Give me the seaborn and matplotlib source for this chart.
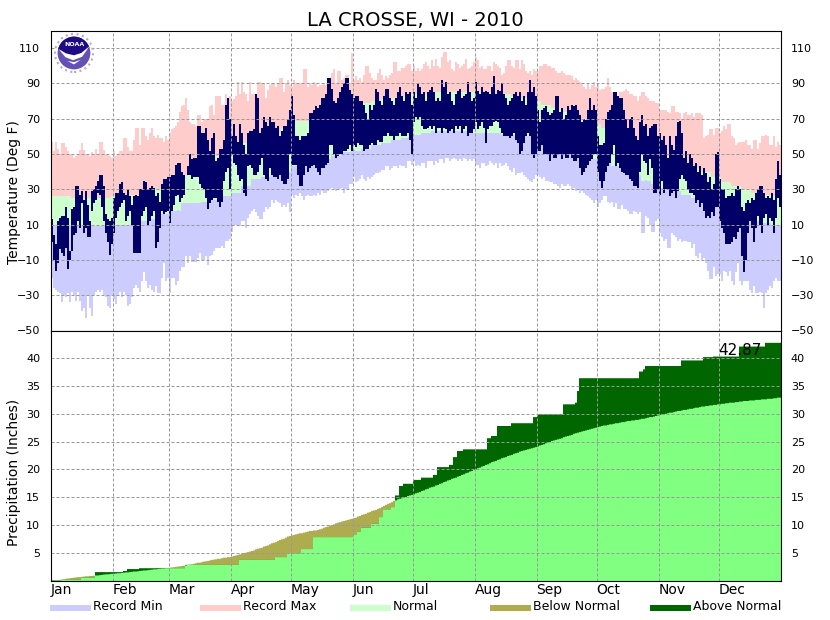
import numpy as np
import matplotlib
matplotlib.use('Agg')
import matplotlib.pyplot as plt
from matplotlib.patches import Circle, Polygon, Rectangle
import seaborn as sns

months = ['Jan', 'Feb', 'Mar', 'Apr', 'May', 'Jun', 'Jul', 'Aug', 'Sep', 'Oct', 'Nov', 'Dec']
month_starts = [0, 31, 59, 90, 120, 151, 181, 212, 243, 273, 304, 334]

# daily record high / low, Jan to Dec
record_max = [
    57,52,57,53,50,56,56,54,52,50, 50,48,49,50,52,56,52,50,50,49, 51,50,53,50,57,57,52,50,50,49,48,
    52,49,50,52,52,59,59,54,52,52, 58,65,65,55,65,65,60,58,62,65, 60,59,61,59,59,57,60,58,
    62,64,65,66,68,74,77,78,82,75, 68,67,67,66,72,72,68,70,70,70, 77,78,72,83,83,83,78,78,84,79,83,
    80,81,83,91,84,91,85,84,80,91, 84,84,74,91,91,90,90,82,86,89, 90,90,88,90,93,93,85,90,92,89,
    88,92,90,90,90,90,98,98,88,90, 89,91,90,88,89,89,90,89,90,91, 96,98,90,97,97,92,93,95,95,90,107,
    92,94,92,93,91,95,100,100,96,93, 92,92,96,98,95,92,94,93,95,96, 102,102,97,97,99,99,100,101,101,97,
    100,97,99,97,98,101,102,100,98,103, 100,104,100,99,105,108,108,102,103,98, 97,102,101,99,100,101,104,98,99,100,102,
    105,103,99,100,98,98,100,100,97,102, 101,100,99,95,96,100,103,103,100,99, 103,103,98,103,101,97,96,97,95,98,97,
    97,100,100,101,101,100,100,99,99,97, 96,96,97,96,95,95,95,94,92,93, 92,91,90,88,87,90,87,89,91,88,
    90,86,87,87,88,93,88,85,84,84, 83,85,85,86,87,86,84,84,83,83, 80,83,85,85,83,82,80,80,80,79,79,
    75,75,75,75,74,73,77,77,74,74, 73,70,73,74,72,72,73,71,73,73, 73,72,59,60,61,64,64,61,65,65,
    62,63,66,64,67,67,60,59,55,56, 57,57,57,58,55,55,53,58,58,53, 56,60,60,61,60,55,55,60,54,57,55,
]
record_min = [
    -20,-26,-27,-28,-29,-34,-30,-31,-29,-34, -28,-30,-33,-28,-33,-39,-37,-43,-30,-37, -42,-30,-28,-27,-28,-27,-30,-31,-36,-37,-30,
    -32,-35,-30,-28,-31,-28,-30,-36,-35,-31, -26,-24,-26,-28,-22,-17,-22,-26,-24,-27, -28,-25,-29,-29,-20,-12,-22,-20,
    -29,-20,-20,-24,-22,-16,-14,-14,-8,-12, -8,-11,-11,-11,-9,-6,-10,-10,-8,-13, -8,-7,-5,-3,-3,-3,-2,-3,1,1,2,
    6,9,10,10,9,12,12,8,14,16, 18,19,17,15,13,13,17,20,19,20, 24,22,24,23,22,20,21,20,22,17,
    27,25,27,26,28,26,24,26,27,26, 26,27,26,28,27,29,28,28,29,30, 31,30,29,30,30,31,28,30,30,33,33,
    37,34,35,36,38,36,35,37,36,37, 38,39,39,40,41,41,43,43,41,42, 43,43,42,44,43,43,42,46,46,44,
    46,43,44,43,45,45,42,46,46,46, 44,46,45,47,47,45,48,48,46,47, 48,47,46,47,46,48,47,46,47,46,47,
    44,44,42,45,45,43,44,46,45,44, 45,42,45,43,44,45,43,41,40,42, 38,39,39,40,38,37,36,35,34,36,38,
    38,37,36,37,35,35,34,34,33,33, 32,31,33,32,32,33,32,30,31,29, 30,28,29,28,27,26,25,24,22,24,
    20,22,24,26,26,23,22,23,20,22, 19,19,21,19,19,18,16,16,18,17, 16,17,5,5,15,14,10,6,6,12,13,
    5,3,1,2,-3,-3,5,4,3,1, 2,0,1,1,0,0,-3,-1,-8,-9, -6,-10,-9,-12,-16,-21,-21,-14,-19,-18,
    -18,-22,-16,-17,-19,-16,-22,-24,-17,-12, -22,-24,-22,-22,-22,-27,-29,-25,-29,-29, -28,-29,-37,-29,-27,-25,-26,-22,-20,-22,-22,
]

# daily observed high / low for 2010
obs_high = [
    13,4,-1,12,14,15,15,20,14,-5, 19,20,32,32,27,29,24,29,21,12, 29,30,32,35,38,38,32,16,13,12,14,
    25,28,28,33,34,28,27,30,26,21, 26,27,26,30,30,35,34,30,31,32, 31,26,28,23,33,36,36,37,
    37,38,38,44,45,45,40,38,38,43, 50,47,48,48,66,66,62,62,65,58, 52,59,62,46,48,53,53,58,78,82,70,
    60,67,60,57,67,62,55,50,62,63, 63,64,84,82,62,65,71,68,66,71, 68,68,65,66,60,63,66,66,70,75,
    83,72,60,60,58,60,60,60,62,73, 73,75,77,76,78,82,82,84,93,93, 87,80,79,82,85,88,90,93,93,86,84,
    82,83,83,80,80,78,73,70,78,75, 78,87,85,80,78,83,87,87,82,80, 78,82,85,88,83,80,85,84,85,78,
    85,82,90,88,84,85,80,85,86,88, 85,80,82,80,92,88,91,84,85,80, 78,84,86,87,82,83,84,91,85,80,82,
    91,86,84,88,85,86,85,84,88,94, 84,86,86,90,84,82,78,80,82,84, 85,83,85,80,83,78,85,92,85,88,83,
    75,68,75,76,77,74,72,73,75,83, 83,74,76,70,72,77,75,78,77,78, 75,72,68,70,69,75,82,75,78,75,
    60,55,55,56,70,74,75,78,85,85, 83,82,82,75,70,65,70,71,65,60, 58,68,72,66,67,60,65,66,67,67,60,
    62,58,60,55,48,60,55,52,60,68, 69,62,48,52,45,50,48,43,45,40, 43,38,42,39,34,37,30,33,50,51,
    36,30,30,25,26,26,28,26,30,32, 30,20,18,22,24,22,25,24,28,30, 32,32,28,25,26,25,28,24,36,46,38,
]
obs_low = [
    0,-10,-16,-12,-4,-6,-8,-3,-15,-10, -5,4,5,12,8,22,5,8,3,3, 18,22,24,28,27,20,12,5,0,-7,-1,
    5,14,18,20,22,24,12,15,18,10, -6,-6,-6,-6,15,18,20,10,12,15, 18,-3,0,8,18,16,17,18,
    11,18,21,26,27,23,25,27,38,38, 38,36,37,37,37,33,31,30,25,19, 22,24,25,25,23,20,23,35,40,42,30,
    50,45,44,38,35,36,28,26,43,44, 42,38,38,40,44,48,38,36,35,42, 38,37,37,36,38,35,33,33,36,50,
    44,44,44,38,32,32,38,43,40,42, 43,44,42,40,38,42,42,44,45,55, 55,50,48,49,50,50,52,52,53,55,52,
    55,54,56,55,55,52,53,53,55,56, 55,55,58,57,57,60,60,62,60,60, 58,60,60,62,60,60,60,62,58,50,
    68,71,70,71,66,64,64,65,66,64, 66,62,65,65,62,65,64,62,63,64, 62,66,64,66,62,64,66,60,62,62,64,
    68,64,66,68,65,56,64,66,66,68, 69,68,65,62,60,60,60,59,60,62, 58,56,50,52,56,60,62,60,50,48,50,
    52,52,55,50,50,50,46,50,48,48, 50,50,47,50,48,48,50,48,46,46, 48,42,38,40,42,44,46,47,50,50,
    40,35,31,35,40,43,45,50,55,43, 45,42,40,39,38,38,36,35,32,32, 31,40,50,46,45,38,47,42,28,28,30,
    27,35,28,30,30,26,28,29,25,29, 36,38,36,35,30,28,28,27,22,24, 20,22,18,14,15,14,17,15,20,20,
    12,8,5,-1,-1,-1,0,3,2,6, 8,-8,-17,-10,5,12,8,0,8,15, 10,5,14,16,10,14,12,5,14,25,20,
]

# normals read every 5 days
normal_high = [26,26,25,25,25,25,26,27,27,28,30,33,36,38,42,47,49,51,54,56,57,59,62,65,69,69,70,72,76,78,78,79,80,81,82,83,84,84,85,85,85,85,85,85,84,84,83,82,80,78,76,74,72,70,67,65,62,60,57,55,52,49,47,44,42,40,37,34,32,30,28,27,26]
normal_low = [10,9,9,9,9,9,10,10,10,12,13,16,18,22,22,23,24,26,28,32,36,37,38,40,43,44,45,47,49,51,52,53,55,56,58,59,61,62,63,63,63,63,62,62,62,61,61,60,59,58,56,54,51,49,47,45,43,40,38,35,33,31,29,27,25,23,20,17,15,13,12,11,10]

# daily normal accumulated precip
normal_precip = [
    0,.05,.1,.15,.2,.25,.3,.4,.45,.5,.55,.6,.65,.7,.7,.75,.8,.85,.85,.9,.9,.95,1,1,1.05,1.1,1.15,1.2,1.2,1.25,1.3,
    1.3,1.35,1.4,1.4,1.45,1.5,1.55,1.55,1.6,1.65,1.7,1.7,1.75,1.8,1.85,1.9,1.9,1.95,2,2.05,2.1,2.1,2.15,2.2,2.25,2.25,2.3,2.35,
    2.4,2.45,2.5,2.55,2.6,2.65,2.7,2.75,2.8,2.9,2.95,3,3.1,3.2,3.3,3.3,3.4,3.5,3.55,3.6,3.7,3.8,3.85,3.9,4,4,4.1,4.2,4.2,4.3,4.3,
    4.4,4.5,4.6,4.7,4.8,4.9,5,5.1,5.2,5.3,5.4,5.5,5.7,5.8,5.9,6,6.2,6.3,6.4,6.6,6.8,6.9,7,7.2,7.4,7.5,7.6,7.8,8,8.1,
    8.2,8.3,8.4,8.5,8.6,8.6,8.7,8.8,8.9,9,9,9.1,9.1,9.2,9.3,9.4,9.6,9.7,9.8,10,10.1,10.2,10.4,10.5,10.6,10.7,10.8,10.9,11,11.1,11.2,
    11.3,11.4,11.6,11.7,11.9,12,12.1,12.3,12.4,12.6,12.7,12.8,13,13.1,13.3,13.5,13.7,13.9,14,14.2,14.4,14.5,14.7,14.8,14.9,15,15.1,15.3,15.4,15.5,
    15.6,15.8,15.9,16,16.2,16.3,16.5,16.6,16.8,16.9,17,17.2,17.3,17.5,17.6,17.8,17.9,18.1,18.2,18.4,18.5,18.6,18.8,18.9,19.1,19.2,19.4,19.5,19.7,19.8,20,
    20.1,20.3,20.4,20.6,20.7,20.9,21,21.2,21.4,21.5,21.6,21.8,21.9,22.1,22.2,22.3,22.5,22.6,22.7,22.9,23,23.1,23.3,23.4,23.5,23.6,23.7,23.8,23.9,24,24.1,
    24.2,24.4,24.5,24.6,24.8,24.9,25,25.2,25.3,25.4,25.5,25.6,25.7,25.9,26,26.1,26.2,26.3,26.5,26.6,26.7,26.8,26.9,27,27.1,27.2,27.3,27.4,27.5,27.6,
    27.7,27.8,27.9,28,28,28.1,28.2,28.2,28.3,28.4,28.4,28.5,28.6,28.6,28.7,28.8,28.8,28.9,28.9,29,29,29.1,29.2,29.2,29.3,29.4,29.5,29.5,29.6,29.7,29.8,
    29.9,30,30,30.1,30.2,30.3,30.3,30.4,30.5,30.6,30.6,30.7,30.8,30.8,30.9,31,31,31.1,31.2,31.2,31.3,31.4,31.4,31.5,31.5,31.6,31.6,31.7,31.7,31.8,
    31.8,31.9,31.9,32,32,32.1,32.1,32.1,32.2,32.2,32.3,32.3,32.4,32.4,32.4,32.5,32.5,32.5,32.6,32.6,32.6,32.7,32.7,32.7,32.8,32.8,32.8,32.9,32.9,33,33,
]

# accumulated precip, only the days it changed
precip_days = [0,5,10,15,22,36,38,44,67,94,112,118,125,131,151,153,155,160,164,166,170,172,174,176,181,185,191,193,199,201,203,206,218,220,223,230,241,243,256,262,263,264,294,296,297,315,326,331,344,357]
precip_total = [0.1,0.2,0.25,0.6,1.6,1.8,2.15,2.3,2.9,3.8,4.3,5.0,5.75,7.9,8.4,8.9,9.6,10.3,11.5,12.9,13.3,15.4,17.1,17.5,18.2,18.6,19.1,20.5,20.9,22.3,23.4,23.7,25.7,26.1,27.9,28.4,29.5,30.0,31.8,32.1,34.2,36.5,37.7,38.1,38.7,39.7,40.3,40.4,42.2,42.87]

temp_ticks = [-50, -30, -10, 10, 30, 50, 70, 90, 110]
precip_ticks = [5, 10, 15, 20, 25, 30, 35, 40]

sns.set_style('white')
plt.rcParams['font.family'] = ['DejaVu Sans']
plt.rcParams['text.color'] = 'black'
plt.rcParams['axes.labelcolor'] = 'black'
plt.rcParams['xtick.color'] = 'black'
plt.rcParams['ytick.color'] = 'black'

W, H = 830, 620
fig = plt.figure(figsize=(W / 100, H / 100), dpi=100)

def px_axes(x0, y0, x1, y1):
    return fig.add_axes([x0 / W, 1 - y1 / H, (x1 - x0) / W, (y1 - y0) / H])

def band(ax, lo, hi, color):
    lo = np.asarray(lo, dtype=float)
    hi = np.asarray(hi, dtype=float)
    sns.barplot(x=np.arange(len(lo)) + 0.5, y=hi - lo, bottom=lo, native_scale=True,
                errorbar=None, width=1, color=color, saturation=1, linewidth=0,
                antialiased=False, ax=ax)

def style_axes(ax, ticks):
    ax.set_xlim(0, 365)
    ax.set_xticks(month_starts)
    ax.set_yticks(ticks)
    ax.set_xlabel('')
    ax.grid(True, color='#999999', linewidth=0.72, linestyle=(0, (3, 2)))
    ax.set_axisbelow(False)
    ax.tick_params(left=False, right=False, bottom=False, top=False,
                   labelleft=True, labelright=True, labelsize=8, pad=4)
    for s in ax.spines.values():
        s.set_visible(True)
        s.set_color('black')
        s.set_linewidth(0.8)
        s.set_zorder(5)

high_daily = np.repeat(normal_high, 5)
low_daily = np.repeat(normal_low, 5)

ax1 = px_axes(50.5, 30.5, 780.5, 330.5)
band(ax1, high_daily, record_max, '#FFCCCC')
band(ax1, low_daily, high_daily, '#CCFFCC')
band(ax1, record_min, low_daily, '#CCCCFF')
band(ax1, obs_low, obs_high, '#000066')
ax1.set_ylim(-50, 120)
style_axes(ax1, temp_ticks)
ax1.set_xticklabels([])
ax1.set_ylabel('Temperature (Deg F)', fontsize=10)
ax1.yaxis.set_label_coords(-0.04, 0.46)
ax1.set_title('LA CROSSE, WI - 2010', fontsize=14, pad=3)

x = np.arange(len(normal_precip) + 1)
normal_line = np.append(normal_precip, normal_precip[-1])
obs_line = np.array(precip_total)[np.searchsorted(precip_days, x, side='right') - 1]

ax2 = px_axes(50.5, 330.5, 780.5, 580.5)
ax2.fill_between(x, 0, normal_line, step='post', color='#AFAB4F', lw=0, antialiased=False)
ax2.fill_between(x, 0, obs_line, step='post', color='#006600', lw=0, antialiased=False)
ax2.fill_between(x, 0, np.minimum(normal_line, obs_line), step='post', color='#80FF80', lw=0, antialiased=False)
ax2.set_ylim(0, 45)
style_axes(ax2, precip_ticks)
ax2.set_xticklabels(months, ha='left', fontsize=10)
ax2.tick_params(axis='x', pad=-1.5)
ax2.set_ylabel('Precipitation (Inches)', fontsize=10)
ax2.yaxis.set_label_coords(-0.04, 0.432)
ax2.text(334, 41.4, '42.87', fontsize=11, va='center', ha='left', color='black')

# legend row along the bottom
legend_items = [('Record Min', 50, '#CCCCFF'), ('Record Max', 200, '#FFCCCC'), ('Normal', 350, '#CCFFCC'),
                ('Below Normal', 490, '#AFAB4F'), ('Above Normal', 650, '#006600')]
for label, left, col in legend_items:
    fig.add_artist(Rectangle((left / W, 1 - 611 / H), 41 / W, 6 / H, color=col, lw=0,
                             transform=fig.transFigure))
    fig.text((left + 43) / W, 1 - 606 / H, label, fontsize=9, va='center', ha='left')

# NOAA badge, upper left of the temperature panel
logo = px_axes(54, 33, 94, 73)
logo.set_xlim(-1.05, 1.05)
logo.set_ylim(-1.05, 1.05)
logo.axis('off')
logo.add_patch(Circle((0, 0), 1.0, fc='white', ec='#B0A8D8', lw=1.5, ls=':'))
logo.add_patch(Circle((0, 0), 0.86, fc='#6650B4', lw=0))
upper = Polygon([(-0.9, 0.25), (-0.5, -0.05), (0, -0.15), (0.5, 0.02), (0.9, 0.35), (0.9, 1), (-0.9, 1)],
                fc='#1E0A82', lw=0)
logo.add_patch(upper)
upper.set_clip_path(Circle((0, 0), 0.86, transform=logo.transData))
logo.add_patch(Polygon([(-0.82, 0.22), (-0.45, -0.22), (-0.05, -0.38), (0.42, -0.2), (0.84, 0.38),
                        (0.38, 0.0), (0.0, -0.12), (-0.42, -0.02)], fc='white', lw=0))
logo.add_patch(Polygon([(-0.35, -0.42), (0.0, -0.48), (0.35, -0.36), (0.0, -0.6)], fc='white', lw=0))
logo.text(0, 0.42, 'NOAA', color='white', fontsize=4.5, fontweight='bold', ha='center', va='center')

fig.savefig('out.png', dpi=100)
